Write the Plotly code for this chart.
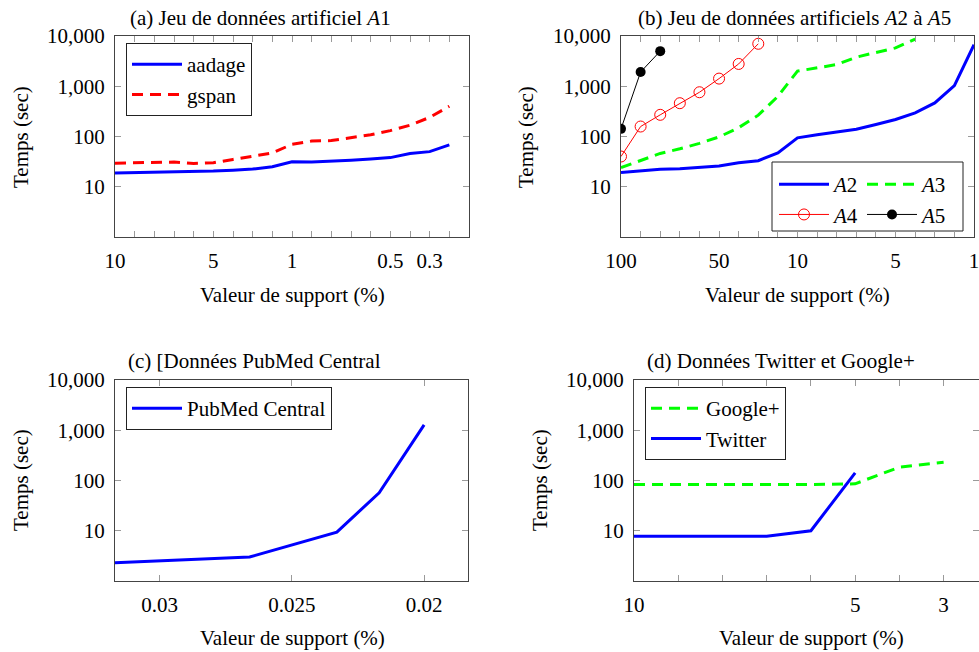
import plotly.graph_objects as go

W, H = 979, 652
FONT = "Liberation Serif"
FS = 21

# ---------------- data ----------------
# (a) artificial dataset A1 — x = position index on support axis
a_pos = list(range(18))
a_aadage = [18.7, 19, 19.5, 20, 20, 20.5, 21.4, 22.5, 25, 31.4, 31, 32, 33.7, 35.5, 38, 46, 50, 68]
a_gspan = [29.5, 30, 31, 31, 29, 30, 35, 40.6, 47, 70, 81, 83, 94, 108, 131, 168, 240, 400]
a_ticklabels = {0: "10", 5: "5", 9: "1", 14: "0.5", 16: "0.3"}

# (b) artificial datasets A2..A5
b_A2 = [19.3, 20.5, 22.4, 22.8, 24.6, 26, 30, 33, 47, 94, 108, 122, 140, 173, 218, 296, 465, 1030, 6700]
b_A3 = [24, 33, 46, 57, 73, 98, 150, 266, 630, 2000, 2300, 2700, 3800, 4700, 5800, 8700]
b_A4 = [40, 158, 270, 460, 760, 1420, 2780, 7000]
b_A5 = [142, 1920, 5000]
b_ticklabels = {0: "100", 5: "50", 9: "10", 14: "5", 18: "1"}

# (c) PubMed Central
c_support = [0.0317, 0.0266, 0.0233, 0.0217, 0.02]
c_time = [2.3, 3.0, 9.4, 57, 1277]
c_tickvals = [0.03, 0.025, 0.02]
c_ticktext = ["0.03", "0.025", "0.02"]

# (d) Twitter and Google+
d_twitter = [7.8, 7.8, 7.8, 7.8, 10, 142]
d_google = [83, 83, 83, 83, 83, 86, 184, 230]
d_ticklabels = {0: "10", 5: "5", 7: "3"}

y_tickvals = [10, 100, 1000, 10000]
y_ticktext = ["10", "100", "1,000", "10,000"]

BLUE = "rgb(0,0,255)"
RED = "rgb(255,0,0)"
GREEN = "rgb(0,255,0)"

# ---------------- layout geometry (page pixels -> paper) ----------------
def px_x(v):
    return v / W

def px_y(v):
    return 1 - v / H

fig = go.Figure()

panels = {
    "a": dict(x0=115, x1=469, y0=36, y1=237),
    "b": dict(x0=621, x1=974, y0=36, y1=237),
    "c": dict(x0=115, x1=468, y0=380, y1=581),
    "d": dict(x0=634, x1=979, y0=380, y1=581),
}
axis_ids = {"a": ("x", "y"), "b": ("x2", "y2"), "c": ("x3", "y3"), "d": ("x4", "y4")}

# traces
fig.add_trace(go.Scatter(x=a_pos, y=a_aadage, mode="lines", name="aadage",
                         line=dict(color=BLUE, width=3), xaxis="x", yaxis="y", legend="legend"))
fig.add_trace(go.Scatter(x=a_pos, y=a_gspan, mode="lines", name="gspan",
                         line=dict(color=RED, width=3, dash="11px,7px"), xaxis="x", yaxis="y", legend="legend"))

fig.add_trace(go.Scatter(x=list(range(len(b_A2))), y=b_A2, mode="lines", name="<i>A</i>2",
                         line=dict(color=BLUE, width=3), xaxis="x2", yaxis="y2", legend="legend2"))
fig.add_trace(go.Scatter(x=list(range(len(b_A4))), y=b_A4, mode="lines+markers", name="<i>A</i>4",
                         line=dict(color=RED, width=1),
                         marker=dict(symbol="circle-open", size=11, color=RED, line=dict(width=1)),
                         xaxis="x2", yaxis="y2", legend="legend2"))
fig.add_trace(go.Scatter(x=list(range(len(b_A3))), y=b_A3, mode="lines", name="<i>A</i>3",
                         line=dict(color=GREEN, width=3, dash="11px,7px"), xaxis="x2", yaxis="y2", legend="legend5"))
fig.add_trace(go.Scatter(x=list(range(len(b_A5))), y=b_A5, mode="lines+markers", name="<i>A</i>5",
                         line=dict(color="black", width=1),
                         marker=dict(symbol="circle", size=10, color="black"),
                         xaxis="x2", yaxis="y2", legend="legend5"))

fig.add_trace(go.Scatter(x=c_support, y=c_time, mode="lines", name="PubMed Central",
                         line=dict(color=BLUE, width=3), xaxis="x3", yaxis="y3", legend="legend3"))

fig.add_trace(go.Scatter(x=list(range(len(d_google))), y=d_google, mode="lines", name="Google+",
                         line=dict(color=GREEN, width=3, dash="11px,7px"), xaxis="x4", yaxis="y4", legend="legend4"))
fig.add_trace(go.Scatter(x=list(range(len(d_twitter))), y=d_twitter, mode="lines", name="Twitter",
                         line=dict(color=BLUE, width=3), xaxis="x4", yaxis="y4", legend="legend4"))

FRAME = "#444444"
TICKC = "#9a9a9a"

def xaxis_cfg(p, tickvals, ticktext, rng):
    g = panels[p]
    return dict(domain=[px_x(g["x0"]), min(1.0, px_x(g["x1"]))], anchor=axis_ids[p][1],
                range=rng, tickvals=tickvals, ticktext=ticktext, automargin=False,
                ticks="inside", ticklen=6, tickcolor=TICKC, tickwidth=1,
                showline=True, linecolor=FRAME, linewidth=1, mirror="ticks",
                showgrid=False, zeroline=False, ticklabelstandoff=5, ticklabeloverflow="allow",
                tickfont=dict(family=FONT, size=FS, color="black"))

def yaxis_cfg(p):
    g = panels[p]
    return dict(domain=[px_y(g["y1"]), px_y(g["y0"])], anchor=axis_ids[p][0],
                type="log", range=[0, 4], tickvals=y_tickvals, ticktext=y_ticktext, automargin=False,
                ticks="inside", ticklen=6, tickcolor=TICKC, tickwidth=1,
                showline=True, linecolor=FRAME, linewidth=1, mirror="ticks",
                showgrid=False, zeroline=False, ticklabelstandoff=5, ticklabeloverflow="allow",
                tickfont=dict(family=FONT, size=FS, color="black"))

def idx_ticks(n, labels):
    vals = list(range(n))
    return vals, [labels.get(i, "") for i in vals]

av, at = idx_ticks(19, a_ticklabels)
bv, bt = idx_ticks(19, b_ticklabels)
dv, dt = idx_ticks(8, d_ticklabels)

fig.update_layout(
    xaxis=xaxis_cfg("a", av, at, [0, 18]),
    yaxis=yaxis_cfg("a"),
    xaxis2=xaxis_cfg("b", bv, bt, [0, 18]),
    yaxis2=yaxis_cfg("b"),
    xaxis3=xaxis_cfg("c", c_tickvals, c_ticktext, [0.03169, 0.01834]),
    yaxis3=yaxis_cfg("c"),
    xaxis4=xaxis_cfg("d", dv, dt, [0, 7.8]),
    yaxis4=yaxis_cfg("d"),
)

leg_common = dict(font=dict(family=FONT, size=FS, color="black"), xanchor="left", yanchor="top",
                  xref="paper", yref="paper", tracegroupgap=0, itemwidth=50)
fig.update_layout(
    legend=dict(x=px_x(126), y=px_y(43), bgcolor="white", bordercolor="#222", borderwidth=1, **leg_common),
    legend2=dict(x=px_x(774), y=px_y(164), bgcolor="rgba(0,0,0,0)", borderwidth=0, **leg_common),
    legend5=dict(x=px_x(862), y=px_y(164), bgcolor="rgba(0,0,0,0)", borderwidth=0, **leg_common),
    legend3=dict(x=px_x(126), y=px_y(387), bgcolor="white", bordercolor="#222", borderwidth=1, **leg_common),
    legend4=dict(x=px_x(645), y=px_y(387), bgcolor="white", bordercolor="#222", borderwidth=1, **leg_common),
)

# legend box for panel (b)
fig.add_shape(type="rect", xref="paper", yref="paper",
              x0=px_x(772), x1=px_x(963), y0=px_y(231), y1=px_y(162),
              line=dict(color="#222", width=1), fillcolor="white", layer="below")

annots = [
    ("(a) Jeu de données artificiel <i>A</i>1", 260, 18, 0),
    ("(b) Jeu de données artificiels <i>A</i>2 à <i>A</i>5", 794, 18, 0),
    ("(c) [Données PubMed Central", 254, 361, 0),
    ("(d) Données Twitter et Google+", 781, 361, 0),
    ("Valeur de support (%)", 292, 295, 0),
    ("Valeur de support (%)", 797, 295, 0),
    ("Valeur de support (%)", 292, 638, 0),
    ("Valeur de support (%)", 811, 638, 0),
    ("Temps (sec)", 21, 137, -90),
    ("Temps (sec)", 526, 137, -90),
    ("Temps (sec)", 21, 480, -90),
    ("Temps (sec)", 540, 480, -90),
]
for text, x, y, ang in annots:
    fig.add_annotation(text=text, x=px_x(x), y=px_y(y), xref="paper", yref="paper",
                       showarrow=False, textangle=ang, xanchor="center", yanchor="middle",
                       borderpad=0, font=dict(family=FONT, size=FS, color="black"))

fig.update_layout(width=W, height=H, margin=dict(l=0, r=0, t=0, b=0, autoexpand=False),
                  paper_bgcolor="white", plot_bgcolor="white",
                  font=dict(family=FONT, size=FS, color="black"))

fig.write_html("out.html", config={"displayModeBar": False},
               post_script="document.body.style.margin='0';document.body.style.overflow='hidden';")
